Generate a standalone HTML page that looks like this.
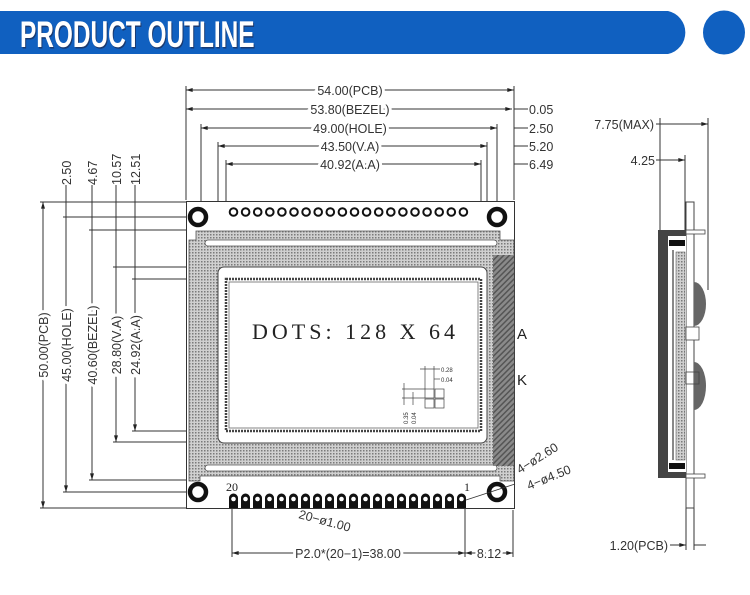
<!DOCTYPE html>
<html><head><meta charset="utf-8"><style>
html,body{margin:0;padding:0;background:#fff;width:750px;height:595px;overflow:hidden}
svg{display:block}
text{font-family:"Liberation Sans",sans-serif;fill:#333}
</style></head><body>
<svg width="750" height="595" viewBox="0 0 750 595" xmlns="http://www.w3.org/2000/svg">
<defs>
<pattern id="dots" width="3" height="3" patternUnits="userSpaceOnUse"><rect width="3" height="3" fill="#d0d0d0"/><rect width="1.5" height="1.5" fill="#7a7a7a"/></pattern>
<pattern id="hatch" width="4" height="4" patternUnits="userSpaceOnUse" patternTransform="rotate(45)"><rect width="4" height="4" fill="#8a8a8a"/><rect width="1.5" height="4" fill="#555"/></pattern>
<marker id="ar" viewBox="0 0 10 6" refX="10" refY="3" markerWidth="7" markerHeight="4" orient="auto-start-reverse"><path d="M0,0L10,3L0,6z" fill="#222"/></marker>
</defs>
<!-- header -->
<path d="M0,11H668A22,22 0 0 1 668,54H0z" fill="#1060c0"/>
<ellipse cx="724" cy="32.5" rx="21" ry="22" fill="#1060c0"/>
<text x="20" y="47" transform="translate(20 0) scale(0.66 1) translate(-20 0)" style="font-weight:bold;font-size:37px;fill:#1a3a70" dx="1.5" dy="1.5">PRODUCT OUTLINE</text>
<text x="20" y="47" transform="translate(20 0) scale(0.66 1) translate(-20 0)" style="font-weight:bold;font-size:37px;fill:#fff">PRODUCT OUTLINE</text>

<g stroke="#333" stroke-width="1" fill="none">
<line x1="186" y1="86" x2="186" y2="200"/><line x1="514" y1="86" x2="514" y2="200"/>
<line x1="201" y1="124" x2="201" y2="210"/><line x1="497" y1="124" x2="497" y2="210"/>
<line x1="218" y1="142" x2="218" y2="268"/><line x1="487" y1="142" x2="487" y2="268"/>
<line x1="226" y1="160" x2="226" y2="280"/><line x1="481" y1="160" x2="481" y2="280"/>
<line x1="186" y1="90" x2="514" y2="90" marker-start="url(#ar)" marker-end="url(#ar)"/>
<line x1="186" y1="109" x2="512" y2="109" marker-start="url(#ar)" marker-end="url(#ar)"/>
<line x1="201" y1="128" x2="497" y2="128" marker-start="url(#ar)" marker-end="url(#ar)"/>
<line x1="218" y1="146" x2="487" y2="146" marker-start="url(#ar)" marker-end="url(#ar)"/>
<line x1="226" y1="164" x2="481" y2="164" marker-start="url(#ar)" marker-end="url(#ar)"/>
<line x1="514" y1="109" x2="528" y2="109"/><line x1="514" y1="128" x2="528" y2="128"/><line x1="514" y1="146" x2="528" y2="146"/><line x1="514" y1="164" x2="528" y2="164"/>
<line x1="40" y1="202" x2="186" y2="202"/><line x1="40" y1="508" x2="186" y2="508"/>
<line x1="63" y1="217" x2="198" y2="217"/><line x1="63" y1="492" x2="198" y2="492"/>
<line x1="89" y1="230" x2="190" y2="230"/><line x1="89" y1="480" x2="190" y2="480"/>
<line x1="113" y1="267" x2="220" y2="267"/><line x1="113" y1="442" x2="220" y2="442"/>
<line x1="132" y1="279" x2="226" y2="279"/><line x1="132" y1="431" x2="226" y2="431"/>
<line x1="43" y1="202" x2="43" y2="508" marker-start="url(#ar)" marker-end="url(#ar)"/>
<line x1="66" y1="185" x2="66" y2="492" marker-end="url(#ar)"/>
<line x1="92" y1="185" x2="92" y2="480" marker-end="url(#ar)"/>
<line x1="116" y1="185" x2="116" y2="442" marker-end="url(#ar)"/>
<line x1="135" y1="185" x2="135" y2="431" marker-end="url(#ar)"/>
<line x1="232" y1="505" x2="232" y2="557"/><line x1="465" y1="505" x2="465" y2="557"/><line x1="513" y1="510" x2="513" y2="557"/>
<line x1="232" y1="553" x2="465" y2="553" marker-start="url(#ar)" marker-end="url(#ar)"/>
<line x1="465" y1="553" x2="513" y2="553" marker-start="url(#ar)" marker-end="url(#ar)"/>
<line x1="660" y1="118" x2="660" y2="230"/><line x1="708" y1="118" x2="708" y2="290"/><line x1="685" y1="155" x2="685" y2="230"/>
<line x1="656" y1="124" x2="708" y2="124" marker-end="url(#ar)"/>
<line x1="656" y1="160" x2="685" y2="160" marker-end="url(#ar)"/>
<line x1="686" y1="508" x2="686" y2="550"/><line x1="694" y1="508" x2="694" y2="550"/>
<line x1="670" y1="545" x2="686" y2="545" marker-end="url(#ar)"/>
<line x1="694" y1="545" x2="706" y2="545"/>
</g>
<g font-size="12.5">
<text x="350" y="95" text-anchor="middle" style="paint-order:stroke;stroke:#fff;stroke-width:6px">54.00(PCB)</text>
<text x="350" y="114" text-anchor="middle" style="paint-order:stroke;stroke:#fff;stroke-width:6px">53.80(BEZEL)</text>
<text x="350" y="133" text-anchor="middle" style="paint-order:stroke;stroke:#fff;stroke-width:6px">49.00(HOLE)</text>
<text x="350" y="151" text-anchor="middle" style="paint-order:stroke;stroke:#fff;stroke-width:6px">43.50(V.A)</text>
<text x="350" y="169" text-anchor="middle" style="paint-order:stroke;stroke:#fff;stroke-width:6px">40.92(A.A)</text>
<text x="529" y="114">0.05</text><text x="529" y="133">2.50</text><text x="529" y="151">5.20</text><text x="529" y="169">6.49</text>
<g style="paint-order:stroke;stroke:#fff;stroke-width:6px">
<text transform="translate(48 345) rotate(-90)" text-anchor="middle">50.00(PCB)</text>
<text transform="translate(71 345) rotate(-90)" text-anchor="middle">45.00(HOLE)</text>
<text transform="translate(97 345) rotate(-90)" text-anchor="middle">40.60(BEZEL)</text>
<text transform="translate(121 345) rotate(-90)" text-anchor="middle">28.80(V.A)</text>
<text transform="translate(140 345) rotate(-90)" text-anchor="middle">24.92(A.A)</text>
</g>
<text transform="translate(71 185) rotate(-90)">2.50</text>
<text transform="translate(97 185) rotate(-90)">4.67</text>
<text transform="translate(121 185) rotate(-90)">10.57</text>
<text transform="translate(140 185) rotate(-90)">12.51</text>
<text x="348" y="558" text-anchor="middle" style="paint-order:stroke;stroke:#fff;stroke-width:6px">P2.0*(20−1)=38.00</text>
<text x="489" y="558" text-anchor="middle" style="paint-order:stroke;stroke:#fff;stroke-width:5px">8.12</text>
<text x="654" y="129" text-anchor="end">7.75(MAX)</text>
<text x="655" y="165" text-anchor="end">4.25</text>
<text x="668" y="550" text-anchor="end">1.20(PCB)</text>
<text transform="translate(298 518) rotate(15)">20−ø1.00</text>
<text transform="translate(520 474) rotate(-32)">4−ø2.60</text>
<text transform="translate(529 490) rotate(-22)">4−ø4.50</text>
</g>

<rect x="186.5" y="201.5" width="328" height="307" fill="#fff" stroke="#333"/>
<path d="M196,231H500V240H514V481H500V476H200V481H189V240H196z" fill="url(#dots)" stroke="#555" stroke-width="0.8"/>
<rect x="205" y="240" width="292" height="6" rx="3" fill="#fff" stroke="#555" stroke-width="0.8"/>
<rect x="205" y="465" width="292" height="6" rx="3" fill="#fff" stroke="#555" stroke-width="0.8"/>
<rect x="493" y="255" width="21" height="211" fill="url(#hatch)"/>
<rect x="218" y="267" width="269" height="176" rx="6" fill="#fff" stroke="#444"/>
<rect x="226" y="279" width="255" height="152" fill="#fff" stroke="#444" stroke-width="2.5" stroke-dasharray="2 1"/>
<rect x="229" y="282" width="249" height="146" fill="#fff" stroke="#666" stroke-width="0.8"/>
<text x="252" y="339" textLength="203" lengthAdjust="spacing" style="font-family:'Liberation Serif',serif;font-size:22px;fill:#222">DOTS: 128 X 64</text>
<text x="517" y="339" style="font-size:15px;fill:#222">A</text>
<text x="517" y="385" style="font-size:15px;fill:#222">K</text>
<g stroke="#444" stroke-width="0.7" fill="none">
<rect x="425" y="389" width="9" height="9"/><rect x="435" y="389" width="9" height="9"/><rect x="425" y="399" width="9" height="9"/><rect x="435" y="399" width="9" height="9"/>
<line x1="425" y1="366" x2="425" y2="389"/><line x1="434" y1="366" x2="434" y2="389"/><line x1="420" y1="369" x2="440" y2="369"/><line x1="434" y1="379" x2="440" y2="379"/>
<line x1="402" y1="389" x2="425" y2="389"/><line x1="402" y1="398" x2="425" y2="398"/><line x1="404" y1="383" x2="404" y2="405"/><line x1="413" y1="392" x2="413" y2="405"/>
</g>
<text x="441" y="372" style="font-size:6px">0.28</text><text x="441" y="382" style="font-size:6px">0.04</text>
<text transform="translate(408 424) rotate(-90)" style="font-size:6px">0.35</text>
<text transform="translate(416 424) rotate(-90)" style="font-size:6px">0.04</text>
<g fill="none" stroke="#111" stroke-width="4.5">
<circle cx="198" cy="217" r="8"/><circle cx="497" cy="217" r="8"/><circle cx="198" cy="492" r="8"/><circle cx="497" cy="492" r="8"/>
</g>
<g fill="none" stroke="#111" stroke-width="2">
<circle cx="233.5" cy="212" r="3.8"/><circle cx="245.6" cy="212" r="3.8"/><circle cx="257.7" cy="212" r="3.8"/><circle cx="269.8" cy="212" r="3.8"/><circle cx="281.9" cy="212" r="3.8"/><circle cx="294" cy="212" r="3.8"/><circle cx="306.1" cy="212" r="3.8"/><circle cx="318.2" cy="212" r="3.8"/><circle cx="330.3" cy="212" r="3.8"/><circle cx="342.4" cy="212" r="3.8"/><circle cx="354.5" cy="212" r="3.8"/><circle cx="366.6" cy="212" r="3.8"/><circle cx="378.7" cy="212" r="3.8"/><circle cx="390.8" cy="212" r="3.8"/><circle cx="402.9" cy="212" r="3.8"/><circle cx="415" cy="212" r="3.8"/><circle cx="427.1" cy="212" r="3.8"/><circle cx="439.2" cy="212" r="3.8"/><circle cx="451.3" cy="212" r="3.8"/><circle cx="463.4" cy="212" r="3.8"/>
</g>
<g fill="#111">
<path d="M229,508V498a4.5,4.5 0 0 1 9,0V508z"/><path d="M241,508V498a4.5,4.5 0 0 1 9,0V508z"/><path d="M253,508V498a4.5,4.5 0 0 1 9,0V508z"/><path d="M265,508V498a4.5,4.5 0 0 1 9,0V508z"/><path d="M277,508V498a4.5,4.5 0 0 1 9,0V508z"/><path d="M289,508V498a4.5,4.5 0 0 1 9,0V508z"/><path d="M301,508V498a4.5,4.5 0 0 1 9,0V508z"/><path d="M313,508V498a4.5,4.5 0 0 1 9,0V508z"/><path d="M325,508V498a4.5,4.5 0 0 1 9,0V508z"/><path d="M337,508V498a4.5,4.5 0 0 1 9,0V508z"/><path d="M349,508V498a4.5,4.5 0 0 1 9,0V508z"/><path d="M361,508V498a4.5,4.5 0 0 1 9,0V508z"/><path d="M373,508V498a4.5,4.5 0 0 1 9,0V508z"/><path d="M385,508V498a4.5,4.5 0 0 1 9,0V508z"/><path d="M397,508V498a4.5,4.5 0 0 1 9,0V508z"/><path d="M409,508V498a4.5,4.5 0 0 1 9,0V508z"/><path d="M421,508V498a4.5,4.5 0 0 1 9,0V508z"/><path d="M433,508V498a4.5,4.5 0 0 1 9,0V508z"/><path d="M445,508V498a4.5,4.5 0 0 1 9,0V508z"/><path d="M457,508V498a4.5,4.5 0 0 1 9,0V508z"/>
</g>
<g fill="#fff">
<circle cx="233.5" cy="499" r="2.3"/><circle cx="245.5" cy="499" r="2.3"/><circle cx="257.5" cy="499" r="2.3"/><circle cx="269.5" cy="499" r="2.3"/><circle cx="281.5" cy="499" r="2.3"/><circle cx="293.5" cy="499" r="2.3"/><circle cx="305.5" cy="499" r="2.3"/><circle cx="317.5" cy="499" r="2.3"/><circle cx="329.5" cy="499" r="2.3"/><circle cx="341.5" cy="499" r="2.3"/><circle cx="353.5" cy="499" r="2.3"/><circle cx="365.5" cy="499" r="2.3"/><circle cx="377.5" cy="499" r="2.3"/><circle cx="389.5" cy="499" r="2.3"/><circle cx="401.5" cy="499" r="2.3"/><circle cx="413.5" cy="499" r="2.3"/><circle cx="425.5" cy="499" r="2.3"/><circle cx="437.5" cy="499" r="2.3"/><circle cx="449.5" cy="499" r="2.3"/><circle cx="461.5" cy="499" r="2.3"/>
</g>
<text x="226" y="491" style="font-family:'Liberation Serif',serif;font-size:12px;fill:#222">20</text>
<text x="464" y="491" style="font-family:'Liberation Serif',serif;font-size:12px;fill:#222">1</text>
<line x1="466" y1="500" x2="515" y2="484" stroke="#333" stroke-width="0.8"/>

<rect x="686" y="202" width="8" height="306" fill="#fff" stroke="#444"/>
<rect x="658" y="230" width="28" height="248" fill="#444"/>
<rect x="668" y="236" width="18" height="236" fill="#fff"/>
<rect x="669" y="240" width="16" height="6" fill="#111"/>
<rect x="669" y="463" width="16" height="6" fill="#111"/>
<rect x="672" y="250" width="2" height="210" fill="#888"/>
<rect x="676" y="252" width="9" height="208" fill="url(#dots)" stroke="#666" stroke-width="0.6"/>
<rect x="686" y="230" width="19" height="4" fill="#fff" stroke="#444" stroke-width="0.8"/>
<rect x="686" y="474" width="19" height="4" fill="#fff" stroke="#444" stroke-width="0.8"/>
<path d="M694,282A12,22 0 0 1 694,326z" fill="#666"/>
<path d="M694,362A12,24 0 0 1 694,410z" fill="#666"/>
<rect x="686" y="327" width="13" height="13" fill="#fff" stroke="#444" stroke-width="0.8"/>
<rect x="686" y="372" width="13" height="12" fill="none" stroke="#444" stroke-width="0.8"/>
</svg>
</body></html>
